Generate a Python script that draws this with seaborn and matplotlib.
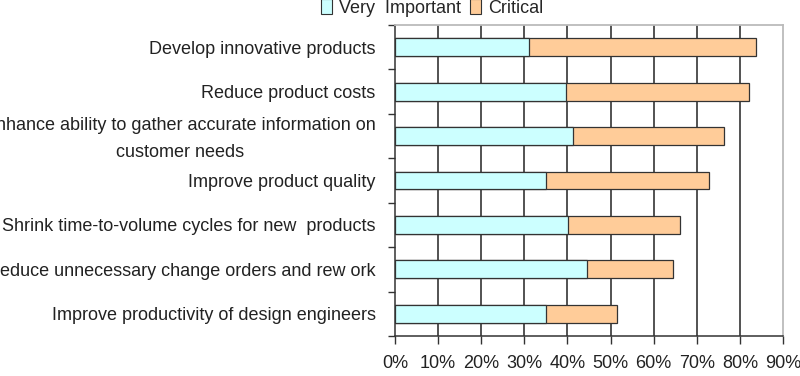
import numpy as np
import pandas as pd
import seaborn as sns
import matplotlib.pyplot as plt
from matplotlib.patches import Patch
from matplotlib.transforms import ScaledTranslation

# data (percent of respondents)
categories = [
    "Develop innovative products",
    "Reduce product costs",
    "Enhance ability to gather accurate information on\ncustomer needs",
    "Improve product quality",
    "Shrink time-to-volume cycles for new  products",
    "Reduce unnecessary change orders and rew ork",
    "Improve productivity of design engineers",
]
very_important = [31, 39.6, 41.4, 35, 40.2, 44.6, 35]
critical = [52.7, 42.6, 35, 37.9, 25.9, 19.8, 16.4]
tick_labels = ["0%", "10%", "20%", "30%", "40%", "50%", "60%", "70%", "80%", "90%"]

df = pd.DataFrame({"category": categories,
                   "very_important": very_important,
                   "critical": critical})
df["total"] = df["very_important"] + df["critical"]

sns.set_style("white")
plt.rcParams['font.family'] = ['Liberation Sans', 'DejaVu Sans']
plt.rcParams['font.size'] = 13

cyan = "#CCFFFF"
orange = "#FFCC99"
edge = "#333333"

fig = plt.figure(figsize=(8, 3.76), dpi=100)
ax = fig.add_axes([395/800, 40/376, (783-395)/800, (336-25)/376])

sns.barplot(data=df, x="total", y="category", orient="h", color=orange,
            width=0.4, edgecolor=edge, linewidth=0.9, saturation=1, ax=ax)
sns.barplot(data=df, x="very_important", y="category", orient="h", color=cyan,
            width=0.4, edgecolor=edge, linewidth=0.9, saturation=1, ax=ax)

ax.set_xlim(0, 90)
ax.set_ylim(6.5, -0.5)
ax.set_xticks(np.arange(0, 91, 10))
ax.set_xticklabels(tick_labels, color="#222222", fontsize=13)
ax.set_xlabel("")
ax.set_ylabel("")

# category ticks between bars, labels at bar centers
ax.set_yticks(np.arange(len(categories)))
ax.set_yticklabels(categories, color="#222222", fontsize=13,
                   linespacing=1.75, multialignment="center")
ax.set_yticks(np.arange(-0.5, len(categories), 1), minor=True)
ax.tick_params(axis="y", which="major", length=0, pad=14)
ax.tick_params(axis="y", which="minor", length=5, width=1, color="#333333",
               direction="out", left=True)
ax.tick_params(axis="x", which="major", length=6, width=1, color="#333333",
               direction="out", bottom=True, pad=8)

# the two-line label sits a little higher in the original
lab = ax.get_yticklabels()[2]
lab.set_transform(lab.get_transform() + ScaledTranslation(0, 4/100, fig.dpi_scale_trans))

ax.set_axisbelow(True)
ax.xaxis.grid(True, color="#444444", linewidth=1.3)
gl = ax.get_xgridlines()
gl[0].set_visible(False)
gl[-1].set_visible(False)

for side in ["left", "bottom"]:
    ax.spines[side].set_color("#333333")
    ax.spines[side].set_linewidth(1.1)
for side in ["top", "right"]:
    ax.spines[side].set_color("#BBBBBB")
    ax.spines[side].set_linewidth(1.3)

handles = [Patch(facecolor=cyan, edgecolor=edge, linewidth=0.8),
           Patch(facecolor=orange, edgecolor=edge, linewidth=0.8)]
fig.legend(handles, ["Very  Important", "Critical"], loc="center",
           bbox_to_anchor=(432/800, 1 - 8/376), ncol=2, frameon=False,
           handlelength=0.6, handleheight=0.9, handletextpad=0.4,
           columnspacing=0.5, fontsize=13)

fig.savefig("out.png", dpi=100)
